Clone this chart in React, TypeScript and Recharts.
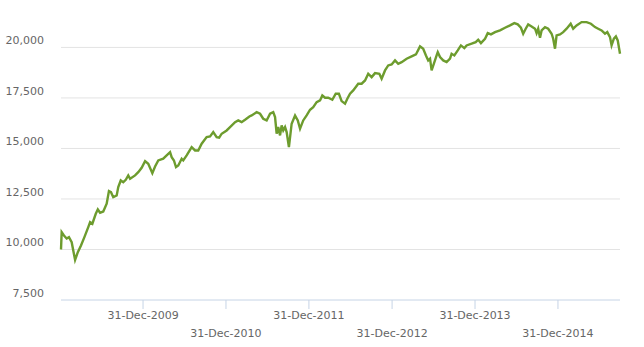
import React from 'react';
import { LineChart, Line, XAxis, YAxis, ReferenceLine } from 'recharts';

const dates = [
  '2009-01-04', '2009-01-07', '2009-01-17', '2009-01-29', '2009-02-08', '2009-02-20', '2009-03-07', '2009-03-19',
  '2009-04-02', '2009-04-17', '2009-05-04', '2009-05-12', '2009-05-22', '2009-06-06', '2009-06-15', '2009-06-25',
  '2009-07-09', '2009-07-24', '2009-08-03', '2009-08-12', '2009-08-22', '2009-09-06', '2009-09-13', '2009-09-24',
  '2009-10-05', '2009-10-16', '2009-10-27', '2009-11-04', '2009-11-26', '2009-12-10', '2009-12-25', '2010-01-09',
  '2010-01-23', '2010-02-10', '2010-02-22', '2010-03-08', '2010-03-30', '2010-04-14', '2010-04-29', '2010-05-06',
  '2010-05-16', '2010-05-25', '2010-06-04', '2010-06-19', '2010-06-26', '2010-07-11', '2010-08-02', '2010-08-17',
  '2010-08-31', '2010-09-15', '2010-10-07', '2010-10-22', '2010-11-05', '2010-11-20', '2010-12-01', '2010-12-12',
  '2011-01-03', '2011-01-18', '2011-02-09', '2011-02-23', '2011-03-10', '2011-03-25', '2011-04-13', '2011-04-23',
  '2011-05-15', '2011-05-30', '2011-06-13', '2011-06-28', '2011-07-13', '2011-07-27', '2011-08-04', '2011-08-11',
  '2011-08-18', '2011-08-26', '2011-09-02', '2011-09-09', '2011-09-17', '2011-09-24', '2011-10-04', '2011-10-16',
  '2011-10-31', '2011-11-12', '2011-11-22', '2011-12-06', '2011-12-21', '2012-01-05', '2012-01-19', '2012-02-03',
  '2012-02-18', '2012-02-28', '2012-03-11', '2012-03-25', '2012-04-12', '2012-04-27', '2012-05-11', '2012-05-23',
  '2012-06-07', '2012-06-17', '2012-06-29', '2012-07-13', '2012-08-04', '2012-08-19', '2012-09-03', '2012-09-17',
  '2012-10-02', '2012-10-17', '2012-11-05', '2012-11-15', '2012-11-30', '2012-12-14', '2012-12-29', '2013-01-13',
  '2013-01-27', '2013-02-11', '2013-03-05', '2013-03-27', '2013-04-15', '2013-05-03', '2013-05-17', '2013-05-29',
  '2013-06-08', '2013-06-16', '2013-06-23', '2013-07-03', '2013-07-15', '2013-07-20', '2013-07-30', '2013-08-13',
  '2013-08-28', '2013-09-12', '2013-09-19', '2013-10-01', '2013-10-16', '2013-10-30', '2013-11-14', '2013-11-24',
  '2013-12-16', '2014-01-03', '2014-01-14', '2014-01-26', '2014-02-13', '2014-02-25', '2014-03-11', '2014-03-29',
  '2014-04-20', '2014-05-12', '2014-06-03', '2014-06-22', '2014-07-07', '2014-07-21', '2014-07-31', '2014-08-11',
  '2014-08-22', '2014-09-06', '2014-09-21', '2014-09-28', '2014-10-05', '2014-10-13', '2014-10-20', '2014-11-04',
  '2014-11-18', '2014-12-03', '2014-12-10', '2014-12-18', '2014-12-25', '2015-01-09', '2015-01-23', '2015-02-07',
  '2015-02-25', '2015-03-08', '2015-03-23', '2015-04-14', '2015-05-06', '2015-05-25', '2015-06-12', '2015-06-26',
  '2015-07-11', '2015-07-26', '2015-08-05', '2015-08-17', '2015-08-24', '2015-09-03', '2015-09-12', '2015-09-20',
  '2015-09-30',
];

const values = [
  10000, 10857, 10694, 10545, 10610, 10362, 9480, 9867,
  10199, 10610, 11105, 11352, 11273, 11768, 11981, 11818,
  11882, 12263, 12887, 12837, 12590, 12674, 13085, 13416,
  13332, 13451, 13664, 13501, 13664, 13827, 14045, 14372,
  14243, 13778, 14109, 14406, 14491, 14654, 14817, 14570,
  14406, 14075, 14159, 14491, 14406, 14654, 15065, 14901,
  14901, 15233, 15560, 15594, 15807, 15560, 15530, 15728,
  15891, 16055, 16302, 16386, 16302, 16421, 16584, 16634,
  16797, 16718, 16471, 16386, 16718, 16797, 16550, 15728,
  16055, 15644, 16139, 15891, 16055, 15807, 15065, 16223,
  16634, 16386, 15976, 16386, 16634, 16916, 17045, 17292,
  17376, 17624, 17510, 17510, 17411, 17708, 17708, 17342,
  17213, 17461, 17708, 17871, 18203, 18203, 18366, 18698,
  18530, 18728, 18698, 18451, 18861, 19109, 19159, 19357,
  19193, 19272, 19441, 19555, 19653, 20050, 19936, 19604,
  19357, 19441, 18861, 19193, 19604, 19767, 19520, 19357,
  19272, 19441, 19688, 19604, 19852, 20099, 19965, 20099,
  20183, 20262, 20381, 20213, 20431, 20708, 20644, 20757,
  20842, 20975, 21089, 21203, 21139, 20975, 20678, 20926,
  21139, 21040, 20926, 20708, 20926, 20480, 20842, 21005,
  20926, 20678, 20431, 19936, 20594, 20644, 20757, 20926,
  21173, 20926, 21089, 21252, 21252, 21173, 21005, 20926,
  20842, 20678, 20757, 20510, 20099, 20431, 20545, 20347,
  19688,
];

const xTickDates = ['2009-12-31', '2010-12-31', '2011-12-31', '2012-12-31', '2013-12-31', '2014-12-31'];
const xTickLabels = ['31-Dec-2009', '31-Dec-2010', '31-Dec-2011', '31-Dec-2012', '31-Dec-2013', '31-Dec-2014'];
const yTicks = [7500, 10000, 12500, 15000, 17500, 20000];

const data = dates.map((d, i) => ({ t: Date.parse(d), v: values[i] }));
const xTicks = xTickDates.map(d => Date.parse(d));

const FONT = '"DejaVu Sans", sans-serif';

// staggered labels: even ticks on the upper row, odd ones below
const XTick = (props: any) => {
  const { x, y, payload } = props;
  const idx = xTicks.indexOf(payload.value);
  const dy = idx % 2 === 0 ? 8 : 26;
  return (
    <text x={x} y={y + dy} textAnchor="middle" fill="#666" fontSize={11} fontFamily={FONT}>
      {xTickLabels[idx]}
    </text>
  );
};

const YTick = (props: any) => {
  const { x, y, payload } = props;
  return (
    <text x={x} y={y - 3} textAnchor="end" fill="#666" fontSize={11} fontFamily={FONT}>
      {payload.value.toLocaleString('en-US')}
    </text>
  );
};

const App: React.FC = () => {
  return (
    <div style={{ width: 644, height: 347, background: '#fff' }}>
      <style>{'body{margin:0}'}</style>
      <LineChart width={644} height={347} data={data} margin={{ top: 7, right: 24, bottom: 7, left: 0 }}>
        {yTicks.slice(1).map(t => (
          <ReferenceLine key={t} y={t} stroke="#e3e3e3" strokeWidth={1} />
        ))}
        <XAxis
          dataKey="t"
          type="number"
          domain={['dataMin', 'dataMax']}
          ticks={xTicks}
          interval={0}
          height={40}
          tickSize={9}
          axisLine={{ stroke: '#c6d4e6' }}
          tickLine={{ stroke: '#c6d4e6' }}
          tick={<XTick />}
        />
        <YAxis
          type="number"
          domain={[7500, 22000]}
          ticks={yTicks}
          interval={0}
          width={61}
          axisLine={false}
          tickLine={false}
          tickSize={0}
          tickMargin={17}
          tick={<YTick />}
        />
        <Line
          type="linear"
          dataKey="v"
          stroke="#6d9c2e"
          strokeWidth={2.4}
          dot={false}
          isAnimationActive={false}
        />
      </LineChart>
    </div>
  );
};

export default App;
